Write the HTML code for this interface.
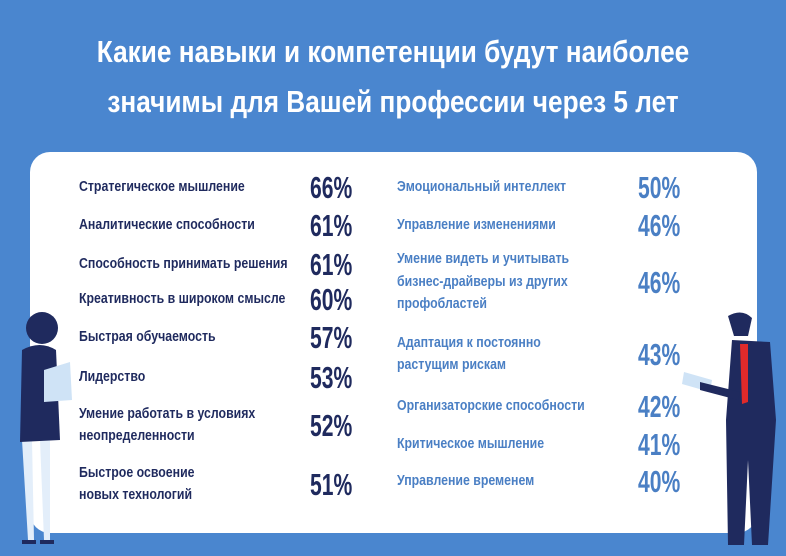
<!DOCTYPE html>
<html><head><meta charset="utf-8">
<style>
body{margin:0;width:786px;height:556px;overflow:hidden;background:#4a86cf;font-family:"Liberation Sans",sans-serif;position:relative}
.t{position:absolute;left:0;width:786px;text-align:center;color:#fff;font-weight:bold;font-size:31px;line-height:36px;transform:scaleX(0.845);transform-origin:393px 0}
#card{position:absolute;left:30px;top:152px;width:727px;height:381px;background:#fff;border-radius:20px}
.lab{position:absolute;font-weight:bold;font-size:14.5px;line-height:22.5px;white-space:nowrap;transform:scaleX(0.85);transform-origin:0 0}
.pct{position:absolute;font-weight:bold;font-size:31px;line-height:30px;white-space:nowrap;transform:scaleX(0.68);transform-origin:0 0}
.L{color:#1f2a5e}.R{color:#4a7fc4}
</style></head><body>
<div class="t" style="top:34px">Какие навыки и компетенции будут наиболее</div>
<div class="t" style="top:84px">значимы для Вашей профессии через 5 лет</div>
<div id="card"></div>
<svg width="786" height="556" style="position:absolute;left:0;top:0">
 <g>
  <path d="M22 440 L28 540 L34 540 L32 440 Z M40 440 L44 540 L50 540 L50 440Z" fill="#e3eefa"/>
  <circle cx="42" cy="328" r="16" fill="#1f2a5e"/>
  <path d="M22 350 Q40 340 56 350 L60 440 L20 442 Z" fill="#1f2a5e"/>
  <path d="M44 370 L70 362 L72 400 L44 402Z" fill="#cfe3f6"/>
  <path d="M22 540 h14 v4 h-14z M40 540 h14 v4 h-14z" fill="#1f2a5e"/>
 </g>
 <g>
  <path d="M728 316 Q742 308 752 318 L748 336 L734 336Z" fill="#1f2a5e"/>
  <path d="M732 340 L770 342 L776 420 L768 545 L752 545 L748 460 L744 545 L728 545 L726 420 Z" fill="#1f2a5e"/>
  <path d="M740 344 L748 344 L748 402 L742 404Z" fill="#e02a2a"/>
  <path d="M684 372 L712 380 L710 392 L682 384Z" fill="#cfe3f6"/>
  <path d="M700 382 L740 392 L738 400 L700 390Z" fill="#1f2a5e"/>
 </g>
</svg>
<div id="rows"></div>
<script>
const leftLabels=["Стратегическое мышление","Аналитические способности","Способность принимать решения","Креативность в широком смысле","Быстрая обучаемость","Лидерство","Умение работать в условиях<br>неопределенности","Быстрое освоение<br>новых технологий"];
const leftValues=[66,61,61,60,57,53,52,51];
const rightLabels=["Эмоциональный интеллект","Управление изменениями","Умение видеть и учитывать<br>бизнес-драйверы из других<br>профобластей","Адаптация к постоянно<br>растущим рискам","Организаторские способности","Критическое мышление","Управление временем"];
const rightValues=[50,46,46,43,42,41,40];
const leftY=[187,225,264,299,337,377,425,484];
const rightY=[187,225,282,354,406,444,481];
const root=document.getElementById('rows');
function add(labels,vals,ys,side,lx,px){
 labels.forEach((l,i)=>{
  const n=(l.match(/<br>/g)||[]).length+1;
  const a=document.createElement('div');
  a.className='lab '+side;a.innerHTML=l;
  a.style.left=lx+'px';a.style.top=(ys[i]-n*11.25)+'px';
  
  
  root.appendChild(a);
  const p=document.createElement('div');
  p.className='pct '+side;p.textContent=vals[i]+'%';
  p.style.left=px+'px';p.style.top=(ys[i]-14)+'px';
  
  
  root.appendChild(p);
 });
}
add(leftLabels,leftValues,leftY,'L',79,310);
add(rightLabels,rightValues,rightY,'R',397,638);
</script>
</body></html>
